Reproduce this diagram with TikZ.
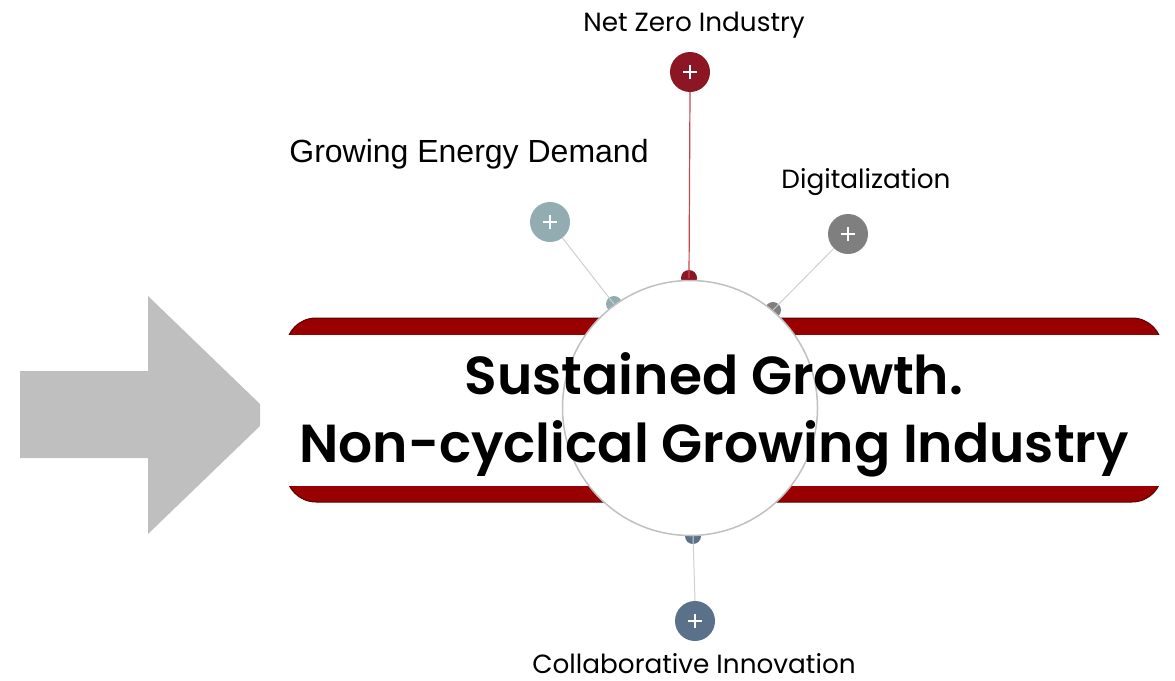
\documentclass[tikz,border=0pt]{standalone}
\usepackage{fontspec}
\setmainfont{Poppins}[BoldFont={Poppins SemiBold}]
\newfontfamily\arialf{Liberation Sans}
\definecolor{bannerred}{HTML}{990000}
\definecolor{bannerdark}{HTML}{5A0000}
\definecolor{arrowgray}{HTML}{BFBFBF}
\definecolor{nzred}{HTML}{8C1624}
\definecolor{nzline}{HTML}{C4474F}
\definecolor{teal}{HTML}{92ACB1}
\definecolor{dgray}{HTML}{7F7F7F}
\definecolor{slate}{HTML}{5B7189}
\definecolor{ringgray}{HTML}{C0C0C0}
\definecolor{thinline}{HTML}{CFCFCF}
\tikzset{
  bigdot/.style={circle, minimum size=40pt, inner sep=0pt, fill=#1,
    path picture={\draw[white, line width=1.8pt]
      ([xshift=-7pt]path picture bounding box.center) -- ([xshift=7pt]path picture bounding box.center)
      ([yshift=-7pt]path picture bounding box.center) -- ([yshift=7pt]path picture bounding box.center);}},
  smalldot/.style={circle, minimum size=16pt, inner sep=0pt, fill=#1},
  lbl/.style={font=\fontsize{26.3}{30}\selectfont, anchor=base, inner sep=0pt},
  conn/.style={draw=thinline, line width=1pt},
  maintext/.style={font=\fontsize{53.5}{60}\selectfont\bfseries, anchor=base, inner sep=0pt}
}
\begin{document}
\begin{tikzpicture}[x=1pt,y=-1pt]
\useasboundingbox (0,0) rectangle (1175,680);
% big arrow
\fill[arrowgray] (20,371) -- (148,371) -- (148,296) -- (260,404) -- (260,426) -- (148,534) -- (148,458) -- (20,458) -- cycle;
% banner
\draw[fill=bannerred, draw=bannerdark, line width=1pt, rounded corners=30pt] (286,318) rectangle (1162,502);
\fill[white] (284,335) rectangle (1164,486);
% small dots behind the circle
\node[smalldot=nzred] (d1) at (689,278) {};
\node[smalldot=teal] (d2) at (614,304) {};
\node[smalldot=dgray] (d3) at (773,310) {};
\node[smalldot=slate] (d4) at (693,536) {};
% big dots
\node[bigdot=nzred] (b1) at (690,72) {};
\node[bigdot=teal] (b2) at (550,222) {};
\node[bigdot=dgray] (b3) at (848,234) {};
\node[bigdot=slate] (b4) at (695,621) {};
% connectors
\draw[draw=nzline, line width=1.2pt] (b1.south) -- (d1.center);
\draw[conn] (b2) -- (d2.center);
\draw[conn] (b3) -- (d3.center);
\draw[conn] (b4.north) -- (d4.center);
% central circle
\node[circle, minimum size=255pt, inner sep=0pt, fill=white, draw=ringgray, line width=1.5pt] (hub) at (690,408) {};
% main text
\node[maintext] (t1) at (714,394) {Sustained Growth.};
\node[maintext] (t2) at (714,462) {Non-cyclical Growing Industry};
% labels
\node[lbl] (l1) at (694,31) {Net Zero Industry};
\node[lbl, font=\arialf\fontsize{32}{36}\selectfont] (l2) at (469,162) {Growing Energy Demand};
\node[lbl] (l3) at (866,188) {Digitalization};
\node[lbl] (l4) at (694,673) {Collaborative Innovation};
\end{tikzpicture}
\end{document}
